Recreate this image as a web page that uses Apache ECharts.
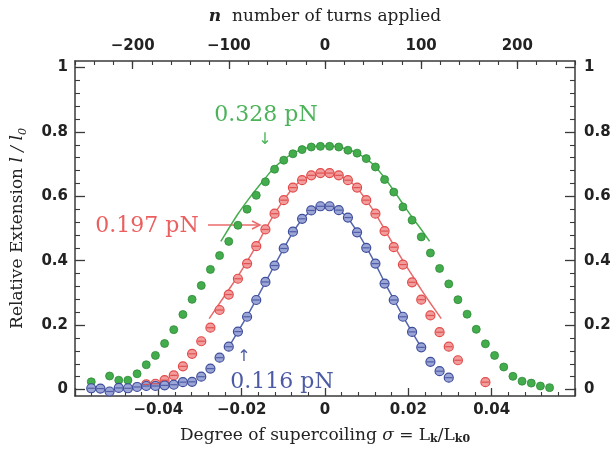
<!DOCTYPE html>
<html><head><meta charset="utf-8">
<script src="https://cdn.jsdelivr.net/npm/echarts/dist/echarts.min.js"></script>
<style>html,body{margin:0;padding:0;background:#fff}#c{width:610px;height:452px}</style>
</head><body><div id="c"></div>
<script>
// supercoiling degree of each measured point
const sigmaGrid = [-0.0561,-0.0539,-0.0517,-0.0495,-0.0473,-0.0451,-0.0429,-0.0407,-0.0385,-0.0363,
  -0.0341,-0.0319,-0.0297,-0.0275,-0.0253,-0.0231,-0.0209,-0.0187,-0.0165,-0.0143,
  -0.0121,-0.0099,-0.0077,-0.0055,-0.0033,-0.0011,0.0011,0.0033,0.0055,0.0077,
  0.0099,0.0121,0.0143,0.0165,0.0187,0.0209,0.0231,0.0253,0.0275,0.0297,
  0.0319,0.0341,0.0363,0.0385,0.0407,0.0429,0.0451,0.0473,0.0495,0.0517,0.0539];
// relative extension, 0.328 pN
const ext328 = [0.024,null,0.042,0.029,0.029,0.049,0.077,0.106,0.143,0.186,
  0.233,0.280,0.323,0.373,0.416,0.460,0.510,0.560,0.603,0.645,
  0.684,0.712,0.732,0.745,0.753,0.755,0.755,0.753,0.743,0.734,
  0.717,0.691,0.652,0.613,0.567,0.526,0.474,0.424,0.376,0.328,
  0.279,0.234,0.187,0.142,0.106,0.070,0.041,0.026,0.020,0.011,0.006];
// relative extension, 0.197 pN
const ext197 = [null,null,null,null,null,null,0.016,0.018,0.029,0.044,
  0.072,0.111,0.150,0.192,0.247,0.295,0.344,0.391,0.445,0.497,
  0.546,0.588,0.627,0.650,0.665,0.672,0.672,0.665,0.650,0.627,
  0.588,0.546,0.492,0.442,0.388,0.333,0.279,0.230,0.178,0.133,
  0.091,null,null,0.023,null,null,null,null,null,null,null];
// relative extension, 0.116 pN
const ext116 = [0.004,0.003,-0.006,0.005,0.004,0.008,0.011,0.011,0.013,0.015,
  0.023,0.024,0.040,0.065,0.099,0.133,0.180,0.226,0.278,0.334,
  0.385,0.438,0.490,0.530,0.556,0.569,0.569,0.557,0.534,0.488,
  0.440,0.391,0.329,0.278,0.226,0.179,0.131,0.086,0.057,0.037,
  null,null,null,null,null,null,null,null,null,null,null];
// fitted curves
const fit328X = [-0.025,-0.0231,-0.0209,-0.0187,-0.0165,-0.0143,-0.0121,-0.0099,-0.0077,-0.0055,-0.0033,-0.0011,
  0.0011,0.0033,0.0055,0.0077,0.0099,0.0121,0.0143,0.0165,0.0187,0.0209,0.0231,0.0251];
const fit328Y = [0.46,0.50,0.545,0.585,0.622,0.657,0.69,0.714,0.733,0.746,0.753,0.756,
  0.756,0.753,0.745,0.734,0.716,0.692,0.657,0.618,0.576,0.535,0.497,0.46];
const fit197X = [-0.0278,-0.0253,-0.0231,-0.0209,-0.0187,-0.0165,-0.0143,-0.0121,-0.0099,-0.0077,-0.0055,-0.0033,-0.0011,
  0.0011,0.0033,0.0055,0.0077,0.0099,0.0121,0.0143,0.0165,0.0187,0.0209,0.0231,0.0253,0.0279];
const fit197Y = [0.22,0.268,0.31,0.352,0.398,0.446,0.497,0.546,0.588,0.626,0.650,0.665,0.672,
  0.672,0.665,0.650,0.626,0.588,0.546,0.497,0.448,0.40,0.355,0.31,0.268,0.22];
const fit116X = [-0.0233,-0.0209,-0.0187,-0.0165,-0.0143,-0.0121,-0.0099,-0.0077,-0.0055,-0.0033,-0.0011,
  0.0011,0.0033,0.0055,0.0077,0.0099,0.0121,0.0143,0.0165,0.0187,0.0209,0.0235];
const fit116Y = [0.128,0.180,0.228,0.28,0.333,0.386,0.438,0.488,0.528,0.555,0.568,
  0.568,0.556,0.532,0.49,0.442,0.39,0.333,0.28,0.228,0.178,0.122];
// tick labels
const turnLabels = [-200,-100,0,100,200];
const yLabels = [0,0.2,0.4,0.6,0.8,1];
const yMinor = [0.04,0.08,0.12,0.16,0.24,0.28,0.32,0.36,0.44,0.48,0.52,0.56,0.64,0.68,0.72,0.76,0.84,0.88,0.92,0.96];
const forceLabels = ['0.328 pN','0.197 pN','0.116 pN'];

const C_G = '#45ad4e';
const pts = (ys) => sigmaGrid.map((s,i)=> ys[i]==null?null:[s,ys[i]]).filter(Boolean);
const fitPts = (xs,ys) => xs.map((x,i)=>[x,ys[i]]);
const minus = v => String(v).replace('-', '\u2212');
const axCol = '#3a3a3a';
const lblStyle = {fontFamily:'DejaVu Sans', fontWeight:'bold', fontSize:15, color:'#222'};
const serif = 'DejaVu Serif';

const yBase = (pos, withName) => ({
  type:'value', position:pos, min:-0.02, max:1.02,
  axisLine:{show:true, onZero:false, lineStyle:{color:axCol, width:1.5}},
  axisTick:{show:true, inside:true, length:10, customValues:yLabels, lineStyle:{color:axCol, width:1.3}},
  axisLabel:Object.assign({customValues:yLabels, margin:pos==='left'?7:9, formatter:v=>String(v)}, lblStyle),
  splitLine:{show:false},
  name: withName ? '{n|Relative Extension }{i|l / l}{s|0}' : '',
  nameLocation:'middle', nameGap:46, nameRotate:90,
  nameTextStyle:{color:'#222', rich:{
    n:{fontFamily:serif, fontSize:17, color:'#222', lineHeight:22, verticalAlign:'middle'},
    i:{fontFamily:serif, fontStyle:'italic', fontSize:17, color:'#222', lineHeight:22, verticalAlign:'middle'},
    s:{fontFamily:serif, fontStyle:'italic', fontSize:11, color:'#222', lineHeight:22, verticalAlign:'bottom'}
  }}
});
const yMinorAx = (pos) => ({
  type:'value', position:pos, min:-0.02, max:1.02,
  axisLine:{show:false, onZero:false},
  axisTick:{show:true, inside:true, length:5, customValues:yMinor, lineStyle:{color:axCol, width:1.1}},
  axisLabel:{show:false}, splitLine:{show:false}
});

const chart = echarts.init(document.getElementById('c'));
chart.setOption({
  backgroundColor:'#fff',
  animation:false,
  grid:{left:75, right:35, top:61, bottom:56, containLabel:false, outerBoundsMode:'none'},
  xAxis:[
    {type:'value', position:'bottom', min:-0.06, max:0.06, interval:0.02,
     axisLine:{show:true, onZero:false, lineStyle:{color:axCol, width:1.5}},
     axisTick:{show:true, inside:true, length:8, lineStyle:{color:axCol, width:1.3}},
     minorTick:{show:true, splitNumber:5, length:4, lineStyle:{color:axCol, width:1.1}},
     axisLabel:Object.assign({margin:7, formatter:v=> Math.abs(v)>0.05?'':minus(+v.toFixed(2)),
       showMinLabel:false, showMaxLabel:false}, lblStyle),
     splitLine:{show:false},
     name:'Degree of supercoiling {i|\u03c3} = L{s|k}/L{s|k0}', nameLocation:'middle', nameGap:30,
     nameTextStyle:{fontFamily:serif, fontSize:17, color:'#222', rich:{
       i:{fontFamily:serif, fontStyle:'italic', fontSize:17, color:'#222'},
       s:{fontFamily:serif, fontWeight:'bold', fontSize:11, color:'#222', padding:[8,0,0,0]}
     }}},
    {type:'value', position:'top', min:-260, max:260,
     axisLine:{show:true, onZero:false, lineStyle:{color:axCol, width:1.5}},
     axisTick:{show:true, inside:true, length:8, customValues:turnLabels, lineStyle:{color:axCol, width:1.3}},
     axisLabel:Object.assign({customValues:turnLabels, margin:7, formatter:v=>minus(v)}, lblStyle),
     splitLine:{show:false},
     name:'{i|n}  number of turns applied', nameLocation:'middle', nameGap:36,
     nameTextStyle:{fontFamily:serif, fontSize:17, color:'#222', rich:{
       i:{fontFamily:serif, fontStyle:'italic', fontWeight:'bold', fontSize:17, color:'#222'}
     }}},
    {type:'value', position:'top', min:-260, max:260, interval:20,
     axisLine:{show:false, onZero:false}, axisLabel:{show:false}, splitLine:{show:false},
     axisTick:{show:true, inside:true, length:4, lineStyle:{color:axCol, width:1.1}}}
  ],
  yAxis:[yBase('left', true), yMinorAx('left'), yBase('right', false), yMinorAx('right')],
  series:[
    {type:'line', data:fitPts(fit328X,fit328Y), smooth:0.3, showSymbol:false, lineStyle:{color:C_G, width:1.5}, z:2},
    {type:'line', data:fitPts(fit197X,fit197Y), smooth:0.3, showSymbol:false, lineStyle:{color:'#e86a6a', width:1.5}, z:2},
    {type:'line', data:fitPts(fit116X,fit116Y), smooth:0.3, showSymbol:false, lineStyle:{color:'#5565ad', width:1.5}, z:2},
    {type:'scatter', data:pts(ext328), symbolSize:8, itemStyle:{color:'#43ac4c', borderColor:'#2e8a38', borderWidth:0.8, opacity:1}, z:3},
    {type:'scatter', data:pts(ext197), symbolSize:9, itemStyle:{color:'#f29c9c', borderColor:'#e24a4a', borderWidth:1.2, opacity:1}, z:3},
    {type:'scatter', data:pts(ext116), symbolSize:9, itemStyle:{color:'#9ba5d6', borderColor:'#3d4c9b', borderWidth:1.2, opacity:1}, z:3},
    {type:'scatter', data:pts(ext197), symbol:'rect', symbolSize:[7,1.2], itemStyle:{color:'#d94040'}, z:4, silent:true},
    {type:'scatter', data:pts(ext116), symbol:'rect', symbolSize:[7,1.2], itemStyle:{color:'#3d4c9b'}, z:4, silent:true}
  ],
  graphic:[
    {type:'text', x:266, y:115, style:{text:forceLabels[0], font:'22px "DejaVu Serif"', fill:'#4cb35a', align:'center', verticalAlign:'middle'}},
    {type:'text', x:265, y:140, style:{text:'\u2193', font:'16px "DejaVu Sans"', fill:'#4cb35a', align:'center', verticalAlign:'middle'}},
    {type:'text', x:147, y:226, style:{text:forceLabels[1], font:'22px "DejaVu Serif"', fill:'#ea5f5f', align:'center', verticalAlign:'middle'}},
    {type:'line', shape:{x1:208, y1:225, x2:259, y2:225}, style:{stroke:'#ea6a6a', lineWidth:1.5}},
    {type:'polyline', shape:{points:[[252,221],[260,225],[252,229]]}, style:{stroke:'#ea6a6a', lineWidth:1.5, fill:null}},
    {type:'text', x:282, y:382, style:{text:forceLabels[2], font:'22px "DejaVu Serif"', fill:'#4d5ba5', align:'center', verticalAlign:'middle'}},
    {type:'text', x:244, y:357, style:{text:'\u2191', font:'16px "DejaVu Sans"', fill:'#4d5ba5', align:'center', verticalAlign:'middle'}}
  ]
});
</script></body></html>
